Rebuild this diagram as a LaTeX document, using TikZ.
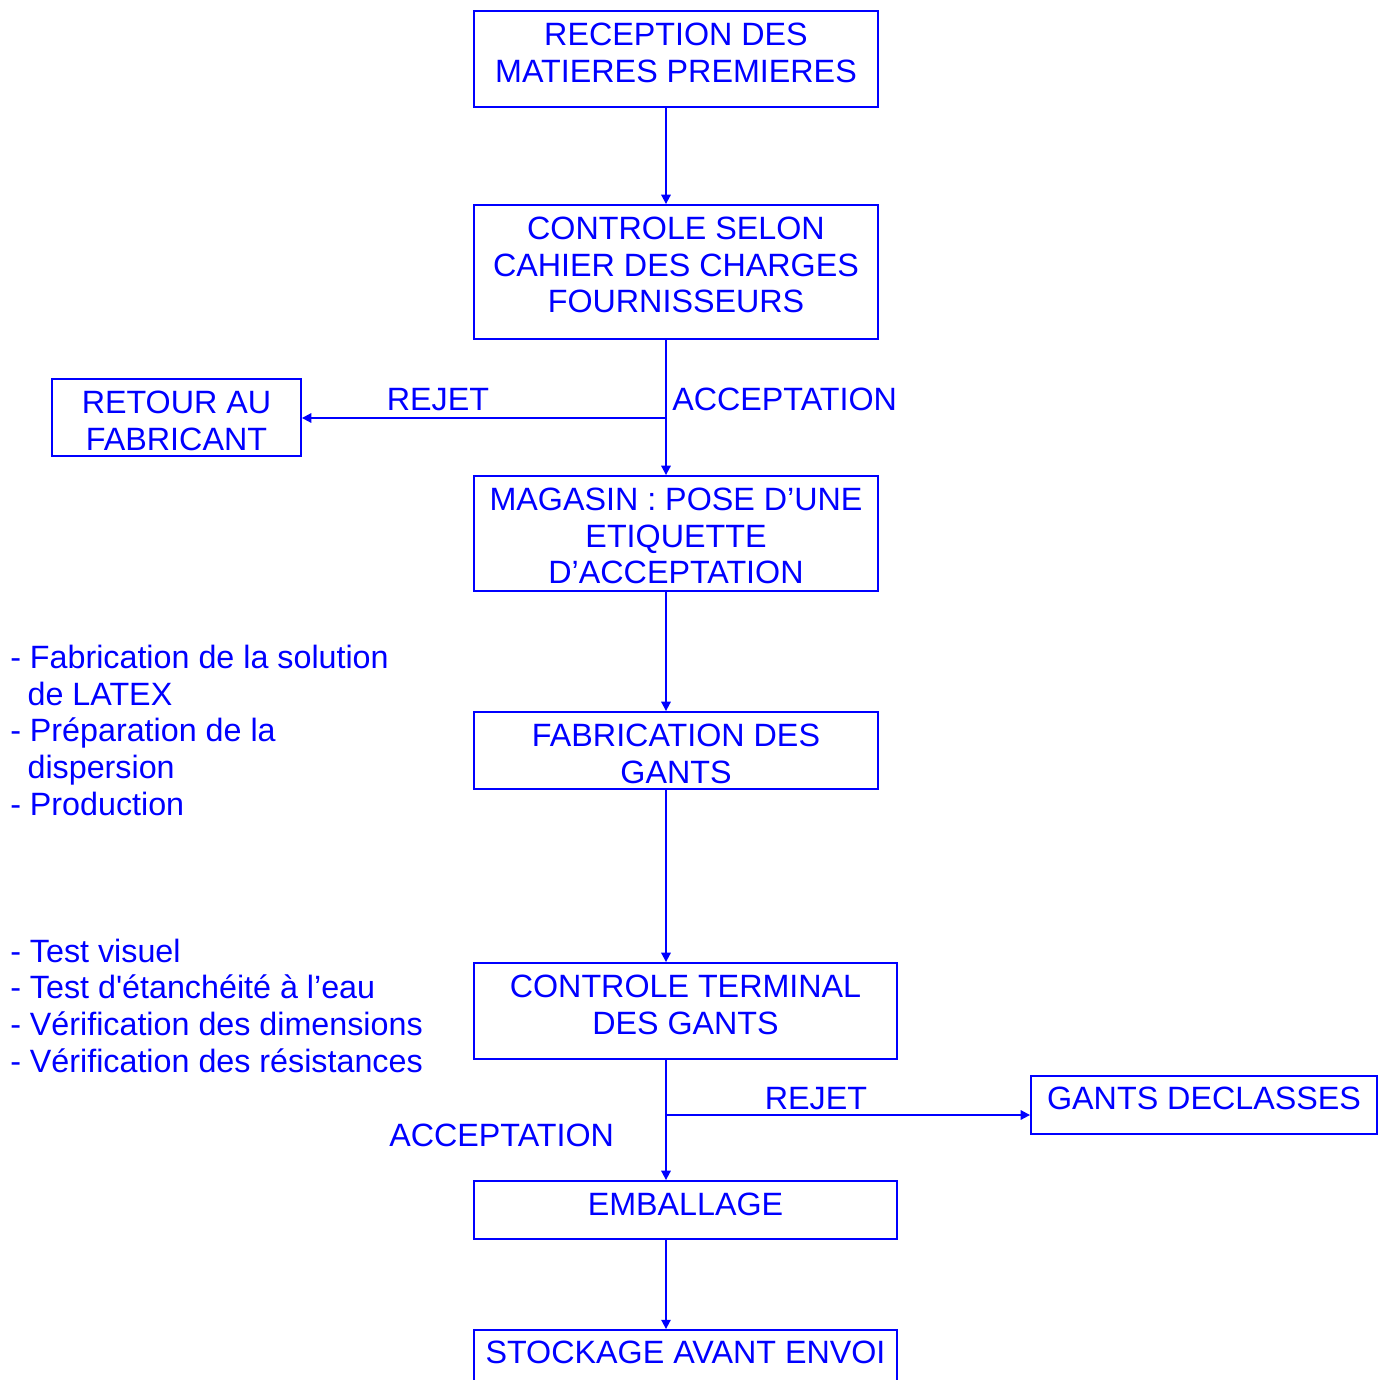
\documentclass[tikz,border=0pt]{standalone}
\usepackage{fontspec}
\setmainfont{Liberation Sans}[Ligatures=TeXOff]
\usetikzlibrary{arrows.meta}
\definecolor{fblue}{RGB}{0,0,255}
\begin{document}
\begin{tikzpicture}[x=0.75pt,y=-0.75pt,
  every node/.style={font=\fontsize{24.2pt}{27.6pt}\selectfont, text=fblue},
  box/.style={draw=fblue, line width=1.4pt, inner sep=0pt, rectangle},
  txt/.style={inner sep=0pt, anchor=north, align=center},
  lbl/.style={inner sep=0pt},
  lst/.style={inner sep=0pt, anchor=north west, align=left},
  arr/.style={draw=fblue, line width=1.4pt, -{Triangle[length=7pt,width=7pt]}}]
\useasboundingbox (0,0) rectangle (1379,1380);
\clip (0,0) rectangle (1379,1380);
% boxes
\node[box, minimum width=303pt, minimum height=72pt]    (b1) at (676,59) {};
\node[box, minimum width=303pt, minimum height=100.5pt] (b2) at (676,272) {};
\node[box, minimum width=186.75pt, minimum height=57.75pt] (ret) at (176.5,417.5) {};
\node[box, minimum width=303pt, minimum height=86.25pt] (b3) at (676,533.5) {};
\node[box, minimum width=303pt, minimum height=57.75pt] (b4) at (676,750.5) {};
\node[box, minimum width=317.25pt, minimum height=72pt] (b5) at (685.5,1011) {};
\node[box, minimum width=259.5pt, minimum height=43.5pt] (gd) at (1204,1105) {};
\node[box, minimum width=317.25pt, minimum height=43.5pt] (b6) at (685.5,1210) {};
\node[box, minimum width=317.25pt, minimum height=45pt] (b7) at (685.5,1360) {};
% box texts
\node[txt] (t1) at (676,22.5) {RECEPTION DES\\MATIERES PREMIERES};
\node[txt] (t2) at (676,216.5) {CONTROLE SELON\\CAHIER DES CHARGES\\FOURNISSEURS};
\node[txt] (tr) at (176.5,390.5) {RETOUR AU\\FABRICANT};
\node[txt] (t3) at (676,487.5) {MAGASIN : POSE D’UNE\\ETIQUETTE\\D’ACCEPTATION};
\node[txt] (t4) at (676,723.5) {FABRICATION DES\\GANTS};
\node[txt] (t5) at (685.5,974.5) {CONTROLE TERMINAL\\DES GANTS};
\node[txt] (tg) at (1204,1087) {GANTS DECLASSES};
\node[txt] (t6) at (685.5,1192.7) {EMBALLAGE};
\node[txt] (t7) at (685.5,1341) {STOCKAGE AVANT ENVOI};
% connectors
\coordinate (sp) at (666,0);
\coordinate (j1) at (666,418);
\coordinate (j2) at (666,1115);
\draw[arr] (b1.south -| sp) -- (b2.north -| sp);
\draw[arr] (b2.south -| sp) -- (b3.north -| sp);
\draw[arr] (j1) -- (j1 -| ret.east);
\draw[arr] (b3.south -| sp) -- (b4.north -| sp);
\draw[arr] (b4.south -| sp) -- (b5.north -| sp);
\draw[arr] (b5.south -| sp) -- (b6.north -| sp);
\draw[arr] (j2) -- (j2 -| gd.west);
\draw[arr] (b6.south -| sp) -- (b7.north -| sp);
% labels
\node[lbl, anchor=north] (rej1) at (438,388) {REJET};
\node[lbl, anchor=north west] (acc1) at (672,388) {ACCEPTATION};
\node[lbl, anchor=north] (rej2) at (816,1086.7) {REJET};
\node[lbl, anchor=north west] (acc2) at (389,1123.3) {ACCEPTATION};
% lists
\node[lst] (l1) at (10,644.7) {- Fabrication de la solution\\\hspace{13pt}de LATEX\\- Préparation de la\\\hspace{13pt}dispersion\\- Production};
\node[lst] (l2) at (10,938.5) {- Test visuel\\- Test d\symbol{39}étanchéité à l’eau\\- Vérification des dimensions\\- Vérification des résistances};
\end{tikzpicture}
\end{document}
